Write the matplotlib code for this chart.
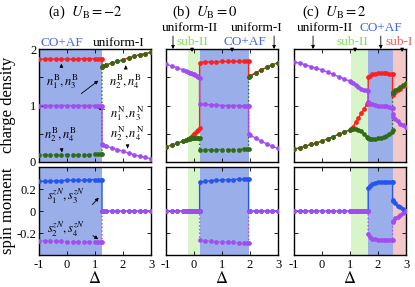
import matplotlib
matplotlib.use("Agg")
import matplotlib.pyplot as plt

plt.rcParams['font.family'] = ['Liberation Serif', 'DejaVu Serif']
plt.rcParams['mathtext.fontset'] = 'stix'
plt.rcParams['axes.unicode_minus'] = False
plt.rcParams['xtick.direction'] = 'in'
plt.rcParams['ytick.direction'] = 'in'

RED = '#ff1f1f'
GREEN = '#2f6b14'
PURPLE = '#a24cf2'
BLUE = '#2456ee'
SHADE_CO = '#9aaee9'
SHADE_SUB2 = '#d8f5ca'
SHADE_SUB1 = '#f2c9c6'
TXT_CO = '#4266e6'
TXT_SUB2 = '#82dc5c'
TXT_SUB1 = '#e8625f'

# ---- panel (a): U_B = -2  (CO+AF | uniform-I)
a_delta = [-1.0, -0.8, -0.6, -0.4, -0.2, 0.0, 0.2, 0.4, 0.6, 0.8, 1.0, 1.1, 1.2, 1.25,
           1.25, 1.3, 1.4, 1.6, 1.8, 2.0, 2.2, 2.4, 2.6, 2.8, 3.0]
a_n1B = [1.82, 1.82, 1.82, 1.82, 1.82, 1.82, 1.82, 1.82, 1.83, 1.83, 1.83, 1.83, 1.83, 1.83,
         1.69, 1.70, 1.72, 1.75, 1.78, 1.81, 1.84, 1.87, 1.90, 1.92, 1.94]
a_n2B = [0.13, 0.13, 0.13, 0.13, 0.13, 0.13, 0.13, 0.13, 0.13, 0.13, 0.14, 0.14, 0.14, 0.14,
         1.69, 1.70, 1.72, 1.75, 1.78, 1.81, 1.84, 1.87, 1.90, 1.92, 1.94]
a_nN = [1.00, 1.00, 1.00, 1.00, 1.00, 1.00, 1.00, 1.00, 1.00, 1.00, 1.00, 1.00, 1.00, 1.00,
        0.31, 0.30, 0.28, 0.25, 0.22, 0.19, 0.16, 0.13, 0.10, 0.08, 0.06]
a_s1 = [0.27, 0.27, 0.27, 0.275, 0.275, 0.28, 0.28, 0.28, 0.28, 0.285, 0.285, 0.285, 0.285, 0.285,
        0.0, 0.0, 0.0, 0.0, 0.0, 0.0, 0.0, 0.0, 0.0, 0.0, 0.0]
a_s2 = [-0.27, -0.27, -0.27, -0.275, -0.275, -0.28, -0.28, -0.28, -0.28, -0.285, -0.285, -0.285, -0.285, -0.285,
        0.0, 0.0, 0.0, 0.0, 0.0, 0.0, 0.0, 0.0, 0.0, 0.0, 0.0]
a_spans = [(-1.0, 1.25, SHADE_CO)]

# ---- panel (b): U_B = 0  (uniform-II | sub-II | CO+AF | uniform-I)
b_delta = [-1.0, -0.8, -0.6, -0.4, -0.3, -0.2,
           -0.15, -0.1, -0.05, 0.0, 0.05, 0.1, 0.15, 0.2,
           0.2, 0.4, 0.6, 0.8, 1.0, 1.2, 1.4, 1.6, 1.8, 1.9, 1.95,
           1.95, 2.0, 2.2, 2.4, 2.6, 2.8, 3.0]
b_n1B = [0.27, 0.30, 0.33, 0.37, 0.39, 0.41,
         0.43, 0.45, 0.47, 0.49, 0.51, 0.54, 0.57, 0.60,
         1.76, 1.77, 1.77, 1.77, 1.78, 1.78, 1.78, 1.78, 1.78, 1.78, 1.78,
         1.50, 1.52, 1.58, 1.63, 1.68, 1.72, 1.76]
b_n2B = [0.27, 0.30, 0.33, 0.37, 0.39, 0.41,
         0.41, 0.42, 0.42, 0.42, 0.42, 0.42, 0.42, 0.42,
         0.21, 0.21, 0.22, 0.22, 0.22, 0.22, 0.22, 0.22, 0.23, 0.23, 0.23,
         1.50, 1.52, 1.58, 1.63, 1.68, 1.72, 1.76]
b_nN = [1.73, 1.70, 1.67, 1.63, 1.61, 1.59,
        1.58, 1.57, 1.56, 1.55, 1.54, 1.52, 1.51, 1.49,
        1.02, 1.02, 1.01, 1.01, 1.00, 1.00, 1.00, 1.00, 0.99, 0.99, 0.99,
        0.50, 0.48, 0.42, 0.37, 0.32, 0.28, 0.24]
b_s1 = [0.0, 0.0, 0.0, 0.0, 0.0, 0.0,
        0.0, 0.0, 0.0, 0.0, 0.0, 0.0, 0.0, 0.0,
        0.26, 0.27, 0.275, 0.28, 0.28, 0.285, 0.285, 0.29, 0.29, 0.29, 0.29,
        0.0, 0.0, 0.0, 0.0, 0.0, 0.0, 0.0]
b_s2 = [0.0, 0.0, 0.0, 0.0, 0.0, 0.0,
        0.0, 0.0, 0.0, 0.0, 0.0, 0.0, 0.0, 0.0,
        -0.26, -0.27, -0.275, -0.28, -0.28, -0.285, -0.285, -0.29, -0.29, -0.29, -0.29,
        0.0, 0.0, 0.0, 0.0, 0.0, 0.0, 0.0]
b_spans = [(-0.22, 0.2, SHADE_SUB2), (0.2, 1.95, SHADE_CO)]

# ---- panel (c): U_B = 2  (uniform-II | sub-II | CO+AF | sub-I)
c_delta = [-1.0, -0.8, -0.6, -0.4, -0.2, 0.0, 0.2, 0.4, 0.6, 0.8, 1.0, 1.05,
           1.1, 1.2, 1.3, 1.4, 1.5, 1.6, 1.65,
           1.65, 1.7, 1.8, 1.9, 2.0, 2.1, 2.2, 2.3, 2.4, 2.5, 2.52,
           2.52, 2.55, 2.6, 2.7, 2.8, 2.9, 3.0]
c_n1B = [0.23, 0.25, 0.28, 0.31, 0.34, 0.37, 0.41, 0.45, 0.49, 0.53, 0.57, 0.58,
         0.62, 0.70, 0.78, 0.86, 0.94, 1.02, 1.06,
         1.50, 1.53, 1.55, 1.56, 1.57, 1.57, 1.57, 1.57, 1.56, 1.56, 1.55,
         1.19, 1.21, 1.24, 1.27, 1.30, 1.34, 1.37]
c_n2B = [0.23, 0.25, 0.28, 0.31, 0.34, 0.37, 0.41, 0.45, 0.49, 0.53, 0.57, 0.58,
         0.59, 0.58, 0.57, 0.54, 0.50, 0.45, 0.42,
         0.42, 0.41, 0.41, 0.41, 0.42, 0.43, 0.44, 0.46, 0.49, 0.53, 0.56,
         1.22, 1.24, 1.27, 1.30, 1.33, 1.37, 1.40]
c_nN = [1.77, 1.75, 1.72, 1.69, 1.66, 1.63, 1.59, 1.55, 1.51, 1.47, 1.43, 1.42,
        1.40, 1.36, 1.33, 1.30, 1.28, 1.27, 1.26,
        1.04, 1.03, 1.02, 1.01, 1.00, 1.00, 0.99, 0.99, 0.98, 0.96, 0.95,
        0.85, 0.80, 0.76, 0.72, 0.68, 0.65, 0.62]
c_s1 = [0.0, 0.0, 0.0, 0.0, 0.0, 0.0, 0.0, 0.0, 0.0, 0.0, 0.0, 0.0,
        0.0, 0.0, 0.0, 0.0, 0.0, 0.0, 0.0,
        0.21, 0.23, 0.25, 0.255, 0.26, 0.26, 0.26, 0.26, 0.265, 0.265, 0.265,
        0.10, 0.09, 0.07, 0.05, 0.035, 0.02, 0.0]
c_s2 = [0.0, 0.0, 0.0, 0.0, 0.0, 0.0, 0.0, 0.0, 0.0, 0.0, 0.0, 0.0,
        0.0, 0.0, 0.0, 0.0, 0.0, 0.0, 0.0,
        -0.21, -0.24, -0.25, -0.255, -0.26, -0.26, -0.26, -0.26, -0.26, -0.26, -0.26,
        -0.10, -0.09, -0.065, -0.05, -0.035, -0.02, 0.0]
c_spans = [(1.05, 1.66, SHADE_SUB2), (1.66, 2.53, SHADE_CO), (2.53, 3.0, SHADE_SUB1)]

x_ticks = [-1, 0, 1, 2, 3]
charge_ticks = [0, 0.5, 1, 1.5, 2]
charge_ticklabels = ['0', '', '1', '', '2']
spin_ticks = [-0.2, 0, 0.2]
spin_ticklabels = ['-0.2', '0', '0.2']

fig = plt.figure(figsize=(4.15, 2.87), dpi=100)
lefts = [39 / 415, 166 / 415, 294 / 415]
w = 112 / 415
axes_c, axes_s = [], []
for i, l in enumerate(lefts):
    axes_c.append(fig.add_axes([l, 1 - 162 / 287, w, 113 / 287]))
    axes_s.append(fig.add_axes([l, 1 - 255 / 287, w, 88 / 287]))


def style(ax, yticks, ylabels, ylim, first, bottom):
    ax.set_xlim(-1, 3)
    ax.set_ylim(*ylim)
    ax.set_xticks(x_ticks)
    ax.set_yticks(yticks)
    ax.tick_params(top=True, right=True, length=3, width=0.6, labelsize=9, pad=3)
    ax.tick_params(axis='y', pad=2)
    if first:
        ax.set_yticklabels(ylabels)
    else:
        ax.set_yticklabels([])
    if bottom:
        ax.set_xticklabels([str(t) for t in x_ticks])
        ax.set_xlabel(r'$\Delta$', fontsize=12, labelpad=0)
    else:
        ax.set_xticklabels([])
    for sp in ax.spines.values():
        sp.set_linewidth(1.0)


def shade(ax, spans):
    for lo, hi, col in spans:
        ax.axvspan(lo, hi, color=col, lw=0, zorder=0)


def draw_charge(ax, d, n1, n2, nn):
    ax.plot(d, n1, '-', color=RED, lw=1.0, marker='o', ms=3.4, mew=0, zorder=3)
    ax.plot(d, n2, ':', color=GREEN, lw=1.0, marker='o', ms=3.4, mew=0, zorder=4)
    ax.plot(d, nn, '-', color=PURPLE, lw=1.0, marker='o', ms=3.4, mew=0, zorder=5)


def draw_spin(ax, d, s1, s2):
    ax.plot(d, s1, '-', color=BLUE, lw=1.0, marker='o', ms=3.4, mew=0, zorder=3)
    ax.plot(d, s2, ':', color=PURPLE, lw=1.0, marker='o', ms=3.4, mew=0, zorder=4)


panels = [
    (a_delta, a_n1B, a_n2B, a_nN, a_s1, a_s2, a_spans),
    (b_delta, b_n1B, b_n2B, b_nN, b_s1, b_s2, b_spans),
    (c_delta, c_n1B, c_n2B, c_nN, c_s1, c_s2, c_spans),
]
for i, (d, n1, n2, nn, s1, s2, spans) in enumerate(panels):
    axc, axs = axes_c[i], axes_s[i]
    shade(axc, spans)
    shade(axs, spans)
    draw_charge(axc, d, n1, n2, nn)
    draw_spin(axs, d, s1, s2)
    style(axc, charge_ticks, charge_ticklabels, (0, 2), i == 0, False)
    style(axs, spin_ticks, spin_ticklabels, (-0.4, 0.4), i == 0, True)

fig.text(8 / 415, 1 - 105 / 287, 'charge density', rotation=90, ha='center', va='center', fontsize=12)
fig.text(8 / 415, 1 - 211 / 287, 'spin moment', rotation=90, ha='center', va='center', fontsize=12)

# titles and phase labels (charge-axis data coordinates)
titles = [r'(a)  $U_{\rm B}=-2$', r'(b)  $U_{\rm B}=0$', r'(c)  $U_{\rm B}=2$']
title_x = [0.66, 0.39, 0.43]
for ax, t, x in zip(axes_c, titles, title_x):
    ax.text(x, 2.65, t, ha='center', va='center', fontsize=10.5, clip_on=False)

# (text, colour, text x, text y, arrow x or None)
a_labels = [('CO+AF', TXT_CO, -0.17, 2.11, None), ('uniform-I', 'black', 1.85, 2.11, None)]
b_labels = [('uniform-II', 'black', -0.14, 2.38, -0.75), ('uniform-I', 'black', 2.25, 2.38, 2.86),
            ('sub-II', TXT_SUB2, -0.07, 2.13, -0.07), ('CO+AF', TXT_CO, 1.8, 2.13, 1.36)]
c_labels = [('uniform-II', 'black', 0.11, 2.38, -0.32), ('CO+AF', TXT_CO, 2.1, 2.38, 2.1),
            ('sub-II', TXT_SUB2, 1.1, 2.13, 1.18), ('sub-I', TXT_SUB1, 2.75, 2.13, 2.86)]
for ax, labels in zip(axes_c, [a_labels, b_labels, c_labels]):
    for txt, col, tx, ty, ax_x in labels:
        ax.text(tx, ty, txt, color=col, ha='center', va='center', fontsize=9.5, clip_on=False)
        if ax_x is not None:
            ax.annotate('', xy=(ax_x, 1.95), xytext=(ax_x, ty - 0.1), annotation_clip=False,
                        arrowprops=dict(arrowstyle='-|>', lw=0.6, color='black', mutation_scale=5))

# annotations in panel (a)
arr = dict(arrowstyle='-|>', lw=0.6, color='black', mutation_scale=5)
ca, sa = axes_c[0], axes_s[0]
ca.annotate(r'$n_1^{\rm B}, n_3^{\rm B}$', xy=(-0.21, 1.79), xytext=(-0.17, 1.42),
            ha='center', va='center', fontsize=9, arrowprops=arr)
ca.annotate('', xy=(1.2, 1.47), xytext=(0.43, 1.18), arrowprops=arr)
ca.annotate(r'$n_2^{\rm B}, n_4^{\rm B}$', xy=(2.1, 1.76), xytext=(2.1, 1.42),
            ha='center', va='center', fontsize=9, arrowprops=arr)
ca.annotate(r'$n_1^{\rm N}, n_3^{\rm N}$', xy=(0.98, 0.97), xytext=(2.15, 0.85),
            ha='center', va='center', fontsize=9, arrowprops=arr)
ca.annotate(r'$n_2^{\rm N}, n_4^{\rm N}$', xy=(2.17, 0.19), xytext=(2.15, 0.51),
            ha='center', va='center', fontsize=9, arrowprops=arr)
ca.annotate(r'$n_2^{\rm B}, n_4^{\rm B}$', xy=(-0.18, 0.17), xytext=(-0.24, 0.48),
            ha='center', va='center', fontsize=9, arrowprops=arr)
sa.text(-0.03, 0.13, r'$s_1^{zN}, s_3^{zN}$', ha='center', va='center', fontsize=9)
sa.annotate('', xy=(1.2, 0.14), xytext=(0.84, 0.04), arrowprops=arr)
sa.text(-0.03, -0.17, r'$s_2^{zN}, s_4^{zN}$', ha='center', va='center', fontsize=9)
sa.annotate('', xy=(1.2, -0.27), xytext=(0.84, -0.21), arrowprops=arr)

fig.savefig('out.png', dpi=100)
